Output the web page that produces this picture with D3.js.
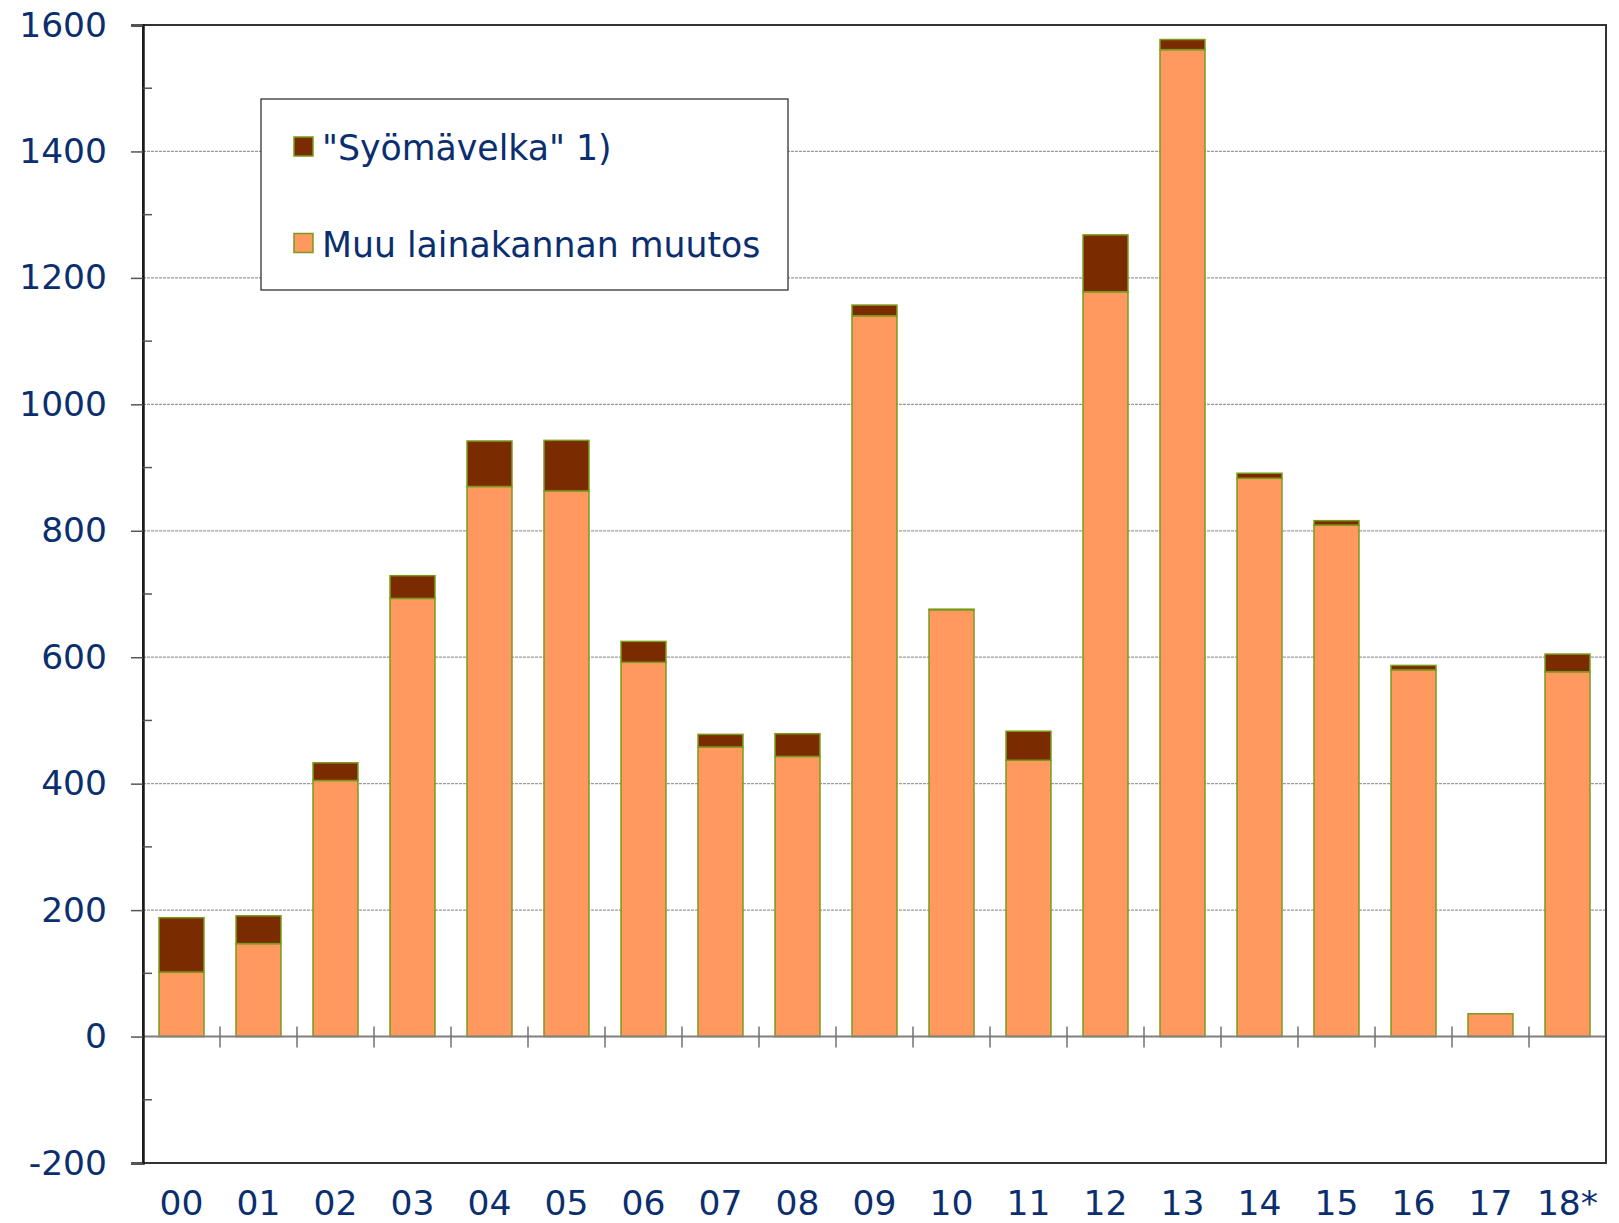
<!DOCTYPE html>
<html>
<head>
<meta charset="utf-8">
<script src="https://cdn.jsdelivr.net/npm/d3@7"></script>
<style>
  body { margin: 0; background: #fff; }
  text { font-family: "DejaVu Sans", Verdana, sans-serif; fill: #0b2e6e; }
</style>
</head>
<body>
<svg width="1619" height="1223"></svg>
<script>
const width = 1619;
const height = 1223;
const plotLeft = 143;
const plotRight = 1606;
const plotTop = 25;
const plotBottom = 1163;

const years = ["00", "01", "02", "03", "04", "05", "06", "07", "08", "09", "10", "11", "12", "13", "14", "15", "16", "17", "18*"];
// Muu lainakannan muutos
const muu = [102, 147, 405, 693, 870, 863, 592, 458, 443, 1140, 675, 437, 1178, 1561, 883, 809, 580, 36, 577];
// "Syömävelka" 1)
const syoma = [86, 44, 28, 36, 72, 80, 33, 20, 36, 17, 1, 46, 90, 16, 8, 7, 7, 0, 28];
const yTicks = [-200, 0, 200, 400, 600, 800, 1000, 1200, 1400, 1600];
const yMinor = [-100, 100, 300, 500, 700, 900, 1100, 1300, 1500];
const legendLabels = ['"Syömävelka" 1)', 'Muu lainakannan muutos'];

const orange = '#ff9960';
const brown = '#7a2c00';
const edge = '#7a9a1a';

const svg = d3.select('svg');

const xScale = d3.scaleBand()
    .domain(years)
    .range([plotLeft, plotRight])
    .paddingInner(0.416)
    .paddingOuter(0.208);

const xCat = d3.scaleBand()
    .domain(years)
    .range([plotLeft, plotRight]);

const yScale = d3.scaleLinear()
    .domain([-200, 1600])
    .range([plotBottom, plotTop]);

// dashed grid lines
svg.append('g')
    .selectAll('line')
    .data(yTicks.filter(d => d > 0 && d < 1600))
    .enter()
    .append('line')
        .attr('x1', plotLeft)
        .attr('x2', plotRight)
        .attr('y1', d => yScale(d))
        .attr('y2', d => yScale(d))
        .attr('stroke', '#9a9a9a')
        .attr('stroke-width', 1.2)
        .attr('stroke-dasharray', '3,1')

// stacked bars
const bars = svg.append('g')
    .selectAll('.bar')
    .data(years)
    .enter()
    .append('g')
        .classed('bar', true)

bars.append('rect')
    .attr('x', d => xScale(d))
    .attr('width', xScale.bandwidth())
    .attr('y', (d, i) => yScale(muu[i]))
    .attr('height', (d, i) => yScale(0) - yScale(muu[i]))
    .attr('fill', orange)
    .attr('stroke', edge)
    .attr('stroke-width', 1.5)

bars.filter((d, i) => syoma[i] > 0)
    .append('rect')
    .attr('x', d => xScale(d))
    .attr('width', xScale.bandwidth())
    .attr('y', d => yScale(muu[years.indexOf(d)] + syoma[years.indexOf(d)]))
    .attr('height', d => yScale(muu[years.indexOf(d)]) - yScale(muu[years.indexOf(d)] + syoma[years.indexOf(d)]))
    .attr('fill', brown)
    .attr('stroke', edge)
    .attr('stroke-width', 1.5)

// zero line and category ticks
svg.append('line')
    .attr('x1', plotLeft)
    .attr('x2', plotRight)
    .attr('y1', yScale(0))
    .attr('y2', yScale(0))
    .attr('stroke', '#808080')
    .attr('stroke-width', 2)

svg.append('g')
    .selectAll('line')
    .data(years.slice(1))
    .enter()
    .append('line')
        .attr('x1', d => xCat(d))
        .attr('x2', d => xCat(d))
        .attr('y1', yScale(0) - 10)
        .attr('y2', yScale(0) + 11)
        .attr('stroke', '#707070')
        .attr('stroke-width', 1.5)

// plot frame
svg.append('rect')
    .attr('x', plotLeft)
    .attr('y', plotTop)
    .attr('width', plotRight - plotLeft)
    .attr('height', plotBottom - plotTop)
    .attr('fill', 'none')
    .attr('stroke', '#333')
    .attr('stroke-width', 2)

// y axis
const yAxis = d3.axisLeft(yScale)
    .tickValues(yTicks)
    .tickFormat(d => String(d))
    .tickSize(12)
    .tickPadding(24)

const yg = svg.append('g')
    .attr('transform', 'translate(' + plotLeft + ',0)')
    .call(yAxis)

yg.select('.domain').attr('stroke', '#1a1a1a').attr('stroke-width', 2.5)
yg.selectAll('.tick line').attr('stroke', '#555').attr('stroke-width', 1.5)
yg.selectAll('.tick text')
    .attr('font-size', '34.5px')
    .attr('font-family', '"DejaVu Sans", Verdana, sans-serif')
    .attr('fill', '#0b2e6e')

svg.append('g')
    .selectAll('line')
    .data(yMinor)
    .enter()
    .append('line')
        .attr('x1', plotLeft)
        .attr('x2', plotLeft + 9)
        .attr('y1', d => yScale(d))
        .attr('y2', d => yScale(d))
        .attr('stroke', '#555')
        .attr('stroke-width', 1.5)

// x labels
svg.append('g')
    .selectAll('text')
    .data(years)
    .enter()
    .append('text')
        .text(d => d)
        .attr('x', d => xCat(d) + xCat.bandwidth() / 2)
        .attr('y', 1215)
        .attr('text-anchor', 'middle')
        .attr('font-size', '34.5px')

// legend
svg.append('rect')
    .attr('x', 261)
    .attr('y', 99)
    .attr('width', 527)
    .attr('height', 191)
    .attr('fill', '#fff')
    .attr('stroke', '#222')
    .attr('stroke-width', 1.2)

const legend = svg.append('g')
    .selectAll('g')
    .data(legendLabels)
    .enter()
    .append('g')
        .attr('transform', (d, i) => 'translate(294,' + (137 + i * 96.5) + ')')

legend.append('rect')
    .attr('width', 19)
    .attr('height', 19)
    .attr('fill', (d, i) => i === 0 ? brown : orange)
    .attr('stroke', edge)
    .attr('stroke-width', 1.5)

legend.append('text')
    .text(d => d)
    .attr('x', 28)
    .attr('y', 23)
    .attr('font-size', '34.7px')
</script>
</body>
</html>
